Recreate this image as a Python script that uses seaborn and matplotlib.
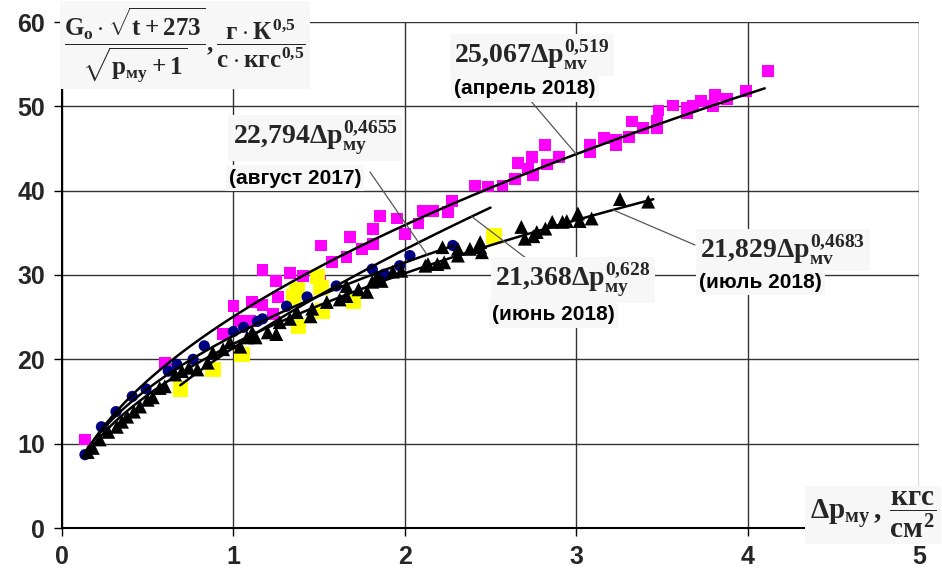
import numpy as np
import pandas as pd
import matplotlib
matplotlib.use("Agg")
import matplotlib.pyplot as plt
from matplotlib import font_manager
import seaborn as sns

# ---------------- data ----------------
apr_x = [0.134, 0.60, 0.94, 1.0, 1.04, 1.10, 1.11, 1.17, 1.17, 1.23, 1.25, 1.26, 1.33, 1.405,
         1.505, 1.51, 1.575, 1.66, 1.68, 1.75, 1.815, 1.815, 1.855, 1.955, 2.0, 2.08, 2.105,
         2.165, 2.25, 2.275, 2.41, 2.485, 2.57, 2.645, 2.66, 2.72, 2.74, 2.75, 2.82, 2.83,
         2.90, 3.08, 3.08, 3.16, 3.23, 3.23, 3.31, 3.325, 3.39, 3.47, 3.47, 3.48, 3.565,
         3.645, 3.645, 3.68, 3.73, 3.80, 3.81, 3.88, 3.99, 4.12]
apr_y = [10.5, 19.6, 23.0, 26.3, 24.5, 24.5, 26.8, 26.4, 30.6, 25.4, 29.3, 27.4, 30.2, 29.9,
         29.3, 33.5, 31.5, 32.1, 34.5, 33.1, 33.7, 35.5, 37.0, 36.7, 34.9, 36.1, 37.6,
         37.6, 37.5, 38.8, 40.6, 40.5, 40.6, 41.4, 43.3, 42.6, 44.0, 41.8, 45.4, 43.1,
         44.0, 45.4, 44.6, 46.2, 46.0, 45.4, 46.4, 48.2, 47.4, 47.4, 48.3, 49.5, 50.1,
         49.8, 49.2, 50.1, 50.6, 50.0, 51.3, 50.9, 51.8, 54.2]

jun_x = [0.69, 0.88, 1.05, 1.38, 1.52, 1.70, 1.35, 1.37, 1.49, 1.51, 2.52]
jun_y = [16.5, 18.8, 20.6, 23.9, 25.7, 26.9, 27.4, 28.3, 29.8, 28.5, 34.6]

aug_x = [0.134, 0.23, 0.315, 0.41, 0.49, 0.62, 0.67, 0.765, 0.83, 1.0, 1.06, 1.14, 1.17,
         1.31, 1.43, 1.60, 1.81, 1.88, 1.97, 2.03, 2.28]
aug_y = [8.7, 12.0, 13.8, 15.6, 16.5, 18.6, 19.4, 20.0, 21.6, 23.3, 23.8, 24.5, 24.8,
         26.3, 27.4, 28.7, 30.7, 30.1, 31.1, 32.3, 33.5]

jul_x = [0.15, 0.18, 0.22, 0.27, 0.32, 0.35, 0.38, 0.42, 0.455, 0.50, 0.53, 0.57, 0.60,
         0.66, 0.70, 0.74, 0.79, 0.85, 0.88, 0.94, 0.98, 1.04, 1.08, 1.11, 1.13, 1.20,
         1.25, 1.27, 1.33, 1.37, 1.45, 1.46, 1.545, 1.62, 1.66, 1.66, 1.73, 1.78, 1.81,
         1.84, 1.865, 1.93, 1.98, 2.12, 2.135, 2.19, 2.23, 2.22, 2.31, 2.31, 2.38, 2.44,
         2.45, 2.44, 2.68, 2.70, 2.75, 2.77, 2.82, 2.86, 2.92, 2.945, 3.01, 3.02, 3.09,
         3.255, 3.42]
jul_y = [9.0, 9.5, 10.5, 11.4, 12.0, 12.6, 13.2, 13.8, 14.4, 15.2, 15.5, 16.6, 16.8,
         18.2, 18.6, 19.0, 18.8, 19.6, 20.8, 21.2, 22.0, 21.5, 22.6, 23.2, 22.6, 23.2,
         23.0, 24.4, 24.8, 25.6, 25.1, 26.0, 26.8, 27.1, 27.5, 28.7, 28.3, 28.0, 29.2,
         29.8, 29.3, 30.4, 30.5, 31.1, 31.3, 31.3, 31.5, 33.3, 33.1, 32.3, 33.1, 33.3,
         32.7, 33.9, 35.7, 34.3, 34.6, 35.1, 35.5, 36.3, 36.3, 36.4, 37.3, 36.4, 36.7,
         39.0, 38.7]

# trend lines  y = a * x^b
fit_names = ["апрель 2018", "август 2017", "июнь 2018", "июль 2018"]
fit_a = [25.067, 22.794, 21.368, 21.829]
fit_b = [0.519, 0.4655, 0.628, 0.4683]
fit_a_txt = ["25{,}067", "22{,}794", "21{,}368", "21{,}829"]
fit_b_txt = ["0{,}519", "0{,}4655", "0{,}628", "0{,}4683"]
fit_sub = ["мv", "му", "му", "мv"]
fit_x0 = [0.134, 0.134, 0.69, 0.15]
fit_x1 = [4.1, 2.28, 2.5, 3.45]

x_ticks = [0, 1, 2, 3, 4, 5]
y_ticks = [0, 10, 20, 30, 40, 50, 60]

# ---------------- style ----------------
sns.set_theme(style="white")
names = {f.name for f in font_manager.fontManager.ttflist}
tick_family = "Liberation Sans Narrow" if "Liberation Sans Narrow" in names else "Liberation Sans"
plt.rcParams["font.family"] = ["Liberation Sans", "DejaVu Sans"]
plt.rcParams["mathtext.fontset"] = "custom"
plt.rcParams["mathtext.rm"] = "Liberation Serif:bold"
plt.rcParams["mathtext.it"] = "Liberation Serif:bold"
plt.rcParams["mathtext.bf"] = "Liberation Serif:bold"
plt.rcParams["mathtext.sf"] = "Liberation Serif:bold"

W, H = 942, 588
fig = plt.figure(figsize=(W / 100, H / 100), dpi=100, facecolor="white")
ax = fig.add_axes([62 / W, 1 - 528 / H, (919 - 62) / W, (528 - 22) / H])
ax.set_facecolor("white")

df_apr = pd.DataFrame({"x": apr_x, "y": apr_y})
df_jun = pd.DataFrame({"x": jun_x, "y": jun_y})
df_aug = pd.DataFrame({"x": aug_x, "y": aug_y})
df_jul = pd.DataFrame({"x": jul_x, "y": jul_y})

sns.scatterplot(data=df_apr, x="x", y="y", marker="s", s=72, color="#ff00ff",
                edgecolor="none", linewidth=0, ax=ax, zorder=3)
sns.scatterplot(data=df_jun, x="x", y="y", marker="s", s=125, color="#ffff00",
                edgecolor="none", linewidth=0, ax=ax, zorder=3)
sns.scatterplot(data=df_aug, x="x", y="y", marker="o", s=65, color="#000080",
                edgecolor="none", linewidth=0, ax=ax, zorder=3)
sns.scatterplot(data=df_jul, x="x", y="y", marker="^", s=100, color="black",
                edgecolor="none", linewidth=0, ax=ax, zorder=3)

for a, b, x0, x1 in zip(fit_a, fit_b, fit_x0, fit_x1):
    xs = np.linspace(x0, x1, 200)
    dfc = pd.DataFrame({"x": xs, "y": a * xs ** b})
    sns.lineplot(data=dfc, x="x", y="y", color="black", lw=1.8, ax=ax, zorder=4,
                 sort=True, estimator=None)

ax.set_xlim(0, 5)
ax.set_ylim(0, 60)
ax.set_xticks(x_ticks)
ax.set_yticks(y_ticks)
ax.set_xlabel("")
ax.set_ylabel("")
ax.grid(True, color="#333333", lw=1.0, zorder=0)
ax.set_axisbelow(True)
for s in ["top", "right"]:
    ax.spines[s].set_visible(False)
for s in ["left", "bottom"]:
    ax.spines[s].set_color("black")
    ax.spines[s].set_linewidth(1.5)
ax.tick_params(axis="both", direction="out", length=6, width=1, color="black",
               labelsize=18, pad=6, left=True, bottom=True)
for lab in ax.get_xticklabels() + ax.get_yticklabels():
    lab.set_fontfamily(tick_family)
    lab.set_fontweight("bold")

box = dict(boxstyle="square,pad=0.15", facecolor="#f7f7f7", edgecolor="none")

def fp(px, py):
    return px / W, 1 - py / H

# y-axis label
fig.text(*fp(185, 45),
         r"$\dfrac{G_o \cdot \sqrt{t + 273}}{\sqrt{p_{му} + 1}}, \dfrac{г \cdot К^{0{,}5}}{с \cdot кгс^{0{,}5}}$",
         ha="center", va="center", fontsize=18, bbox=box, zorder=6)

# x-axis label
fig.text(*fp(873, 515), r"$\Delta p_{му}\,,\, \dfrac{кгс}{см^2}$",
         ha="center", va="center", fontsize=21, bbox=box, zorder=6)

# fit labels
form_pos = [(532, 55), (315, 138), (573, 280), (783, 250)]
name_pos = [(525, 89), (295, 178), (553, 315), (760, 282)]
pointer_from = [(530, 100), (370, 172), (535, 265), (695, 245)]
pointer_x = [3.0, 2.13, 2.39, 3.215]

for i in range(4):
    a, b = fit_a[i], fit_b[i]
    xp = pointer_x[i]
    px, py = pointer_from[i]
    ax.annotate("", xy=(xp, a * xp ** b), xycoords="data",
                xytext=(px, H - py), textcoords="figure pixels",
                arrowprops=dict(arrowstyle="-", color="#555555", lw=0.9,
                                shrinkA=0, shrinkB=0), zorder=5)
    txt = r"$%s\Delta p_{%s}^{%s}$" % (fit_a_txt[i], fit_sub[i], fit_b_txt[i])
    fig.text(*fp(*form_pos[i]), txt, ha="center", va="center", fontsize=20,
             bbox=box, zorder=6)
    fig.text(*fp(*name_pos[i]), "(" + fit_names[i] + ")", ha="center", va="center",
             fontsize=15, fontweight="bold", color="black", bbox=box, zorder=6)

fig.savefig("out.png", dpi=100, facecolor="white")
